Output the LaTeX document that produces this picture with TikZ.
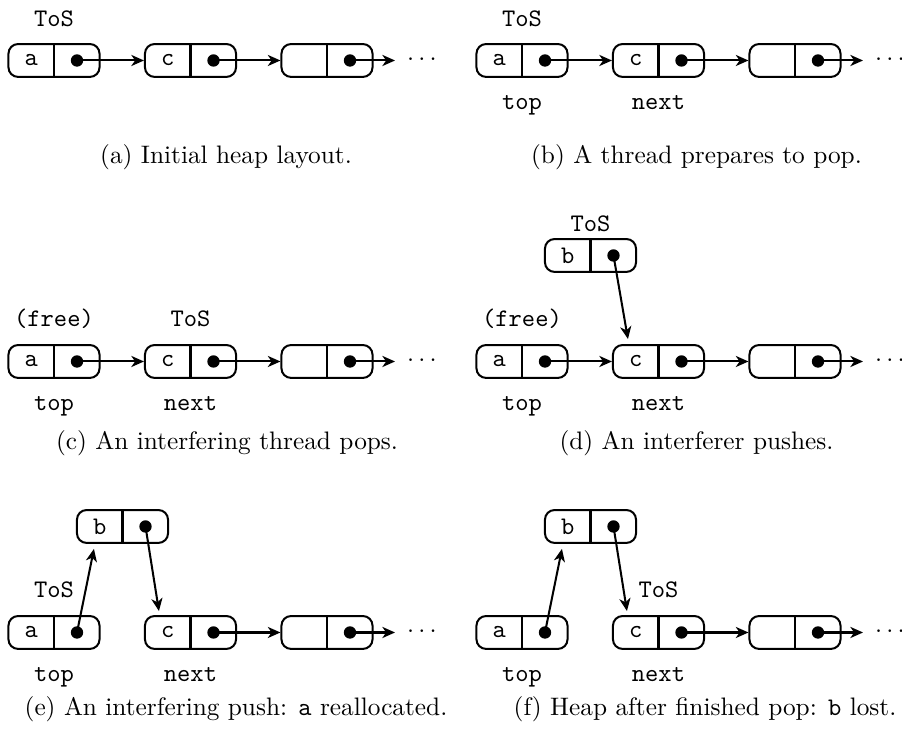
\documentclass[tikz,border=0pt]{standalone}
\usetikzlibrary{arrows.meta,calc}
\newcommand\cellnode[4]{%
  \node[cellbox] (#1) at (#2,#3) {};
  \draw[cellline] (#1.north) -- (#1.south);
  \node[cellval] (#1-v) at ($(#1.center)+(-22.75,0)$) {#4};
  \node[ptrdot] (#1-p) at ($(#1.center)+(23,0)$) {};
}
\newcommand\chaintail[2]{%
  \cellnode{#1a}{54}{#2}{a}
  \cellnode{#1c}{190.5}{#2}{c}
  \cellnode{#1n}{327}{#2}{}
  \draw[ptr] (#1c-p.center) -- (#1n.west);
  \coordinate (#1end) at ($(#1n.center)+(68,0)$);
  \draw[ptr] (#1n-p.center) -- (#1end);
  \node[dotsnode] (#1dots) at ($(#1n.center)+(95,-1)$) {$\cdots$};
}
\begin{document}
\begin{tikzpicture}[x=0.39526pt,y=-0.39526pt,
  cellbox/.style={draw, line width=0.8pt, rounded corners=3.8pt, minimum width=36pt, minimum height=13pt, inner sep=0pt},
  cellline/.style={line width=0.8pt},
  cellval/.style={font=\ttfamily, inner sep=0pt},
  ptrdot/.style={circle, fill, inner sep=0pt, minimum size=4.9pt},
  ptr/.style={line width=0.8pt, -{Stealth[length=5pt,width=4.4pt,inset=1.5pt]}},
  lbl/.style={font=\ttfamily, anchor=base, inner sep=0pt},
  captext/.style={anchor=base, inner sep=0pt},
  dotsnode/.style={inner sep=0pt}]
\useasboundingbox (0,0) rectangle (902,738);

% (a)
\chaintail{A}{60.5}
\draw[ptr] (Aa-p.center) -- (Ac.west);
\node[lbl] (Atos) at (54,27) {ToS};
\node[captext] (Acap) at (226,164) {(a) Initial heap layout.};

% (b)
\begin{scope}[shift={(468,0)}]
\chaintail{B}{60.5}
\draw[ptr] (Ba-p.center) -- (Bc.west);
\node[lbl] (Btos) at (54,27) {ToS};
\node[lbl] (Btop) at (54,110) {top};
\node[lbl] (Bnext) at (190.5,110) {next};
\node[captext] (Bcap) at (228.5,164) {(b) A thread prepares to pop.};
\end{scope}

% (c)
\chaintail{C}{361.5}
\draw[ptr] (Ca-p.center) -- (Cc.west);
\node[lbl] (Cfree) at (54,327) {(free)};
\node[lbl] (Ctos) at (190.5,327) {ToS};
\node[lbl] (Ctop) at (54,411) {top};
\node[lbl] (Cnext) at (190.5,411) {next};
\node[captext] (Ccap) at (227,450) {(c) An interfering thread pops.};

% (d)
\begin{scope}[shift={(468,0)}]
\chaintail{D}{361.5}
\draw[ptr] (Da-p.center) -- (Dc.west);
\cellnode{Db}{122.5}{255.5}{b}
\coordinate (Din) at ($(Dc.north west)+(16,-5)$);
\draw[ptr] (Db-p.center) -- (Din);
\node[lbl] (Dtos) at (122.5,232) {ToS};
\node[lbl] (Dfree) at (54,327) {(free)};
\node[lbl] (Dtop) at (54,411) {top};
\node[lbl] (Dnext) at (190.5,411) {next};
\node[captext] (Dcap) at (228.5,450) {(d) An interferer pushes.};
\end{scope}

% (e)
\chaintail{E}{632.5}
\cellnode{Eb}{122.5}{526.5}{b}
\coordinate (Ein) at ($(Eb.south west)+(18,5)$);
\draw[ptr] (Ea-p.center) -- (Ein);
\coordinate (Ecin) at ($(Ec.north west)+(15,-4)$);
\draw[ptr] (Eb-p.center) -- (Ecin);
\node[lbl] (Etos) at (54,598) {ToS};
\node[lbl] (Etop) at (54,682) {top};
\node[lbl] (Enext) at (190.5,682) {next};
\node[captext] (Ecap) at (236,716) {(e) An interfering push: \texttt{a} reallocated.};

% (f)
\begin{scope}[shift={(468,0)}]
\chaintail{F}{632.5}
\cellnode{Fb}{122.5}{526.5}{b}
\coordinate (Fin) at ($(Fb.south west)+(18,5)$);
\draw[ptr] (Fa-p.center) -- (Fin);
\coordinate (Fcin) at ($(Fc.north west)+(15,-4)$);
\draw[ptr] (Fb-p.center) -- (Fcin);
\node[lbl] (Ftos) at (190.5,598) {ToS};
\node[lbl] (Ftop) at (54,682) {top};
\node[lbl] (Fnext) at (190.5,682) {next};
\node[captext] (Fcap) at (237,716) {(f) Heap after finished pop: \texttt{b} lost.};
\end{scope}
\end{tikzpicture}
\end{document}
